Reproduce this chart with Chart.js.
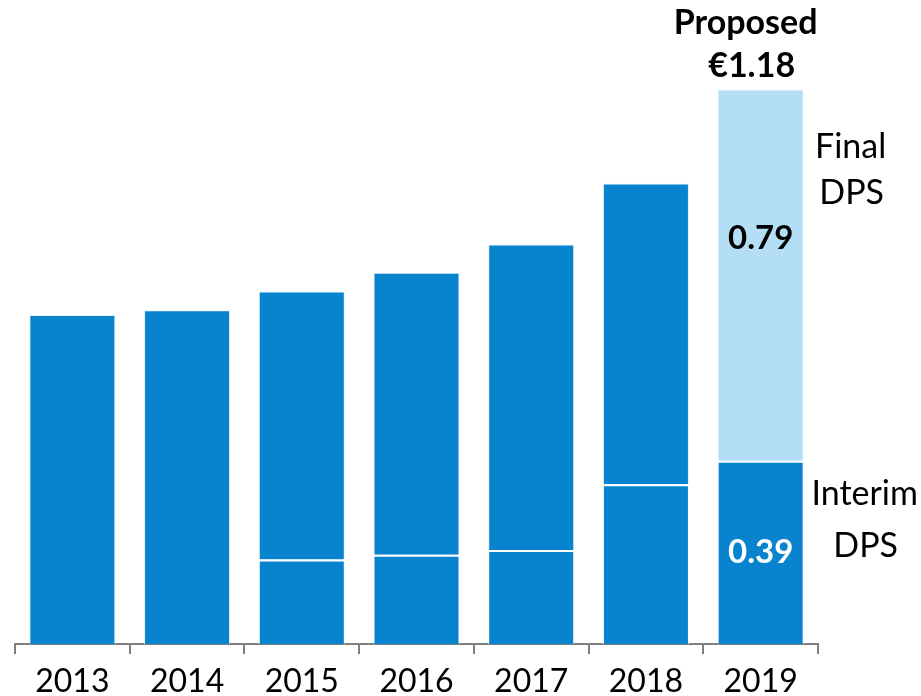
<!DOCTYPE html>
<html>

<head>
  <title>Dividend per share 2013-2019</title>
  <meta charset="UTF-8">
  <script src="https://cdn.jsdelivr.net/npm/chart.js@4/dist/chart.umd.min.js"></script>
  <style>
    html, body { margin: 0; padding: 0; background: #fff; }
    #wrap { width: 921px; height: 696px; }
  </style>
</head>

<body>
  <div id="wrap"><canvas id="myChart" width="921" height="696"></canvas></div>
  <script>
    var years = ["2013", "2014", "2015", "2016", "2017", "2018", "2019"];
    var interim = [null, null, 0.18, 0.19, 0.20, 0.34, 0.39];
    var finalDps = [0.70, 0.71, 0.57, 0.60, 0.65, 0.64, 0.79];
    var totalLabel = ["Proposed", "€1.18"];

    var dark = "rgb(8, 132, 207)";
    var light = "rgb(179, 222, 246)";
    var font = "Lato, 'Open Sans', sans-serif";

    // text around the 2019 bar
    var notes = {
      id: "notes",
      afterDatasetsDraw: function(chart) {
        var c = chart.ctx;
        var y = chart.scales.y;
        var last = years.length - 1;
        var bar = chart.getDatasetMeta(1).data[last];
        var x = bar.x;
        var right = bar.x + bar.width / 2;
        var top = y.getPixelForValue(interim[last] + finalDps[last]);
        c.save();
        c.textAlign = "center";
        c.textBaseline = "middle";
        c.fillStyle = "#000";
        c.font = "bold 34px " + font;
        c.fillText(totalLabel[0], x - 15, top - 66);
        c.fillText(totalLabel[1], x - 9, top - 23);
        c.font = "bold 33px " + font;
        c.fillText(finalDps[last].toFixed(2), x, y.getPixelForValue(interim[last] + finalDps[last] * 0.6));
        c.fillStyle = "#fff";
        c.fillText(interim[last].toFixed(2), x, y.getPixelForValue(interim[last] / 2));
        c.fillStyle = "#000";
        c.font = "34px " + font;
        c.fillText("Final", right + 47, y.getPixelForValue(1.057));
        c.fillText("DPS", right + 48, y.getPixelForValue(0.96));
        c.fillText("Interim", right + 61, y.getPixelForValue(0.32));
        c.fillText("DPS", right + 62, y.getPixelForValue(0.209));
        c.restore();
      }
    };

    var ctx = document.getElementById("myChart").getContext("2d");
    var chart = new Chart(ctx, {
      type: "bar",
      data: {
        labels: years,
        datasets: [{
          label: "Interim DPS",
          data: interim,
          backgroundColor: dark,
          borderColor: "rgba(255,255,255,0.9)",
          borderWidth: { top: 2, left: 1, right: 1, bottom: 0 },
          borderSkipped: false
        }, {
          label: "Final DPS",
          data: finalDps,
          backgroundColor: years.map(function(y, i) { return i == years.length - 1 ? light : dark; }),
          borderColor: "rgba(225,238,248,0.9)",
          borderWidth: 1
        }]
      },
      options: {
        responsive: false,
        animation: false,
        layout: { padding: { left: 15, right: 103, top: 33, bottom: 0 } },
        plugins: {
          legend: { display: false },
          tooltip: { enabled: false },
          title: { display: false }
        },
        datasets: {
          bar: { barPercentage: 0.75, categoryPercentage: 1 }
        },
        scales: {
          x: {
            stacked: true,
            grid: { drawOnChartArea: false, drawTicks: true, tickLength: 10, color: "#7f7f7f", lineWidth: 2 },
            border: { display: true, color: "#7f7f7f", width: 2 },
            ticks: { color: "#000", padding: 8, font: { family: font, size: 32 } },
            afterFit: function(scale) { scale.height = 52; }
          },
          y: {
            stacked: true,
            display: false,
            min: 0,
            max: 1.3
          }
        }
      },
      plugins: [notes]
    });
  </script>
</body>

</html>
